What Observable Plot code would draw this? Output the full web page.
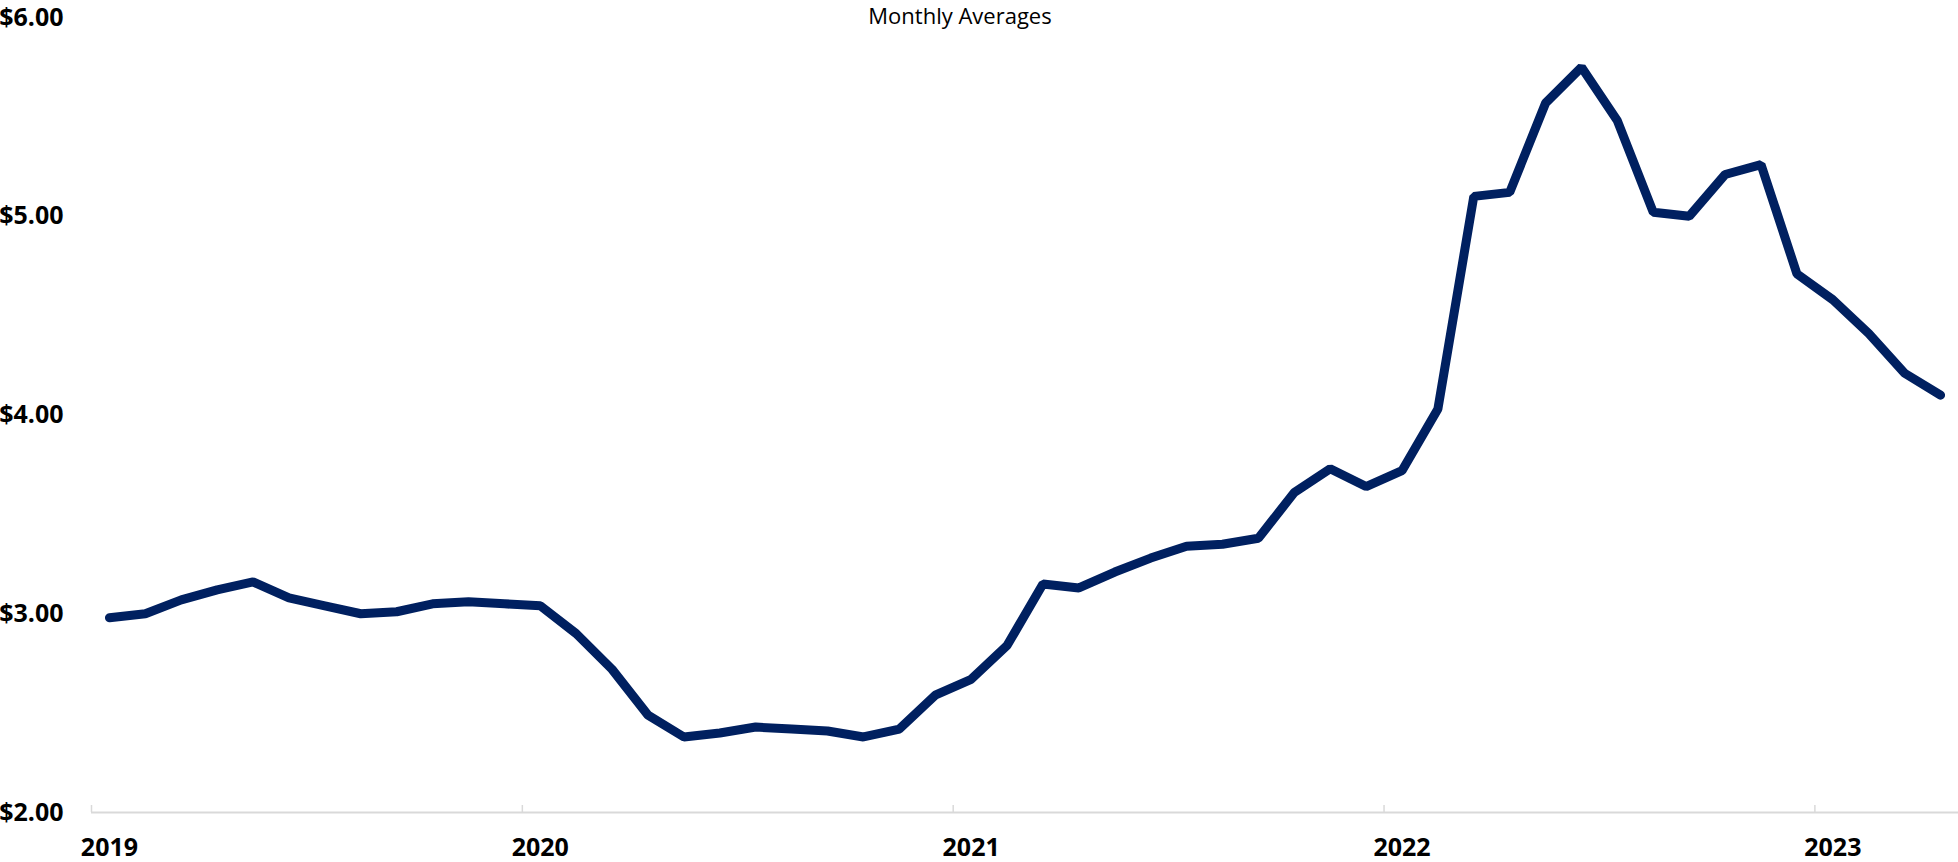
<!DOCTYPE html>
<html>
<head>
<meta charset="utf-8">
<script src="https://cdn.jsdelivr.net/npm/d3@7"></script>
<script src="https://cdn.jsdelivr.net/npm/@observablehq/plot@0.6"></script>
<style>
  body { margin: 0; background: #fff; }
  #wrap { position: relative; width: 1958px; height: 862px; }
  #title { position: absolute; top: 0; left: 0; width: 1920px; text-align: center;
           font-family: "Open Sans", sans-serif; font-size: 22px; color: #000; line-height: normal; }
</style>
</head>
<body>
<div id="wrap">
  <div id="chart"></div>
  <div id="title">Monthly Averages</div>
</div>
<script>
// Monthly average prices, Jan 2019 – Apr 2023
const startYear = 2019;
const prices = [
  2.98, 3.00, 3.07, 3.12, 3.16, 3.08, 3.04, 3.00, 3.01, 3.05, 3.06, 3.05,
  3.04, 2.90, 2.72, 2.49, 2.38, 2.40, 2.43, 2.42, 2.41, 2.38, 2.42, 2.59,
  2.67, 2.84, 3.15, 3.13, 3.21, 3.28, 3.34, 3.35, 3.38, 3.61, 3.73, 3.64,
  3.72, 4.03, 5.10, 5.12, 5.57, 5.75, 5.48, 5.02, 5.00, 5.21, 5.26, 4.71,
  4.58, 4.41, 4.21, 4.10
];
const yearLabels = ["2019", "2020", "2021", "2022", "2023"];
const yTicks = [2, 3, 4, 5, 6];

const data = prices.map((v, i) => ({ i: i + 0.5, v }));
const yearStarts = yearLabels.map((_, k) => k * 12);
const yearLabelPos = yearStarts.map(s => s + 0.5);

const chart = Plot.plot({
  width: 1958,
  height: 862,
  marginTop: 17,
  marginBottom: 50,
  marginLeft: 91,
  marginRight: 0,
  style: { fontFamily: '"Liberation Sans Narrow", "Open Sans", sans-serif', background: "#fff", color: "#000" },
  x: { domain: [0, prices.length] },
  y: { domain: [2, 6] },
  marks: [
    Plot.ruleY([2], { stroke: "#d9d9d9", strokeWidth: 2 }),
    Plot.axisX(yearStarts, { tickSize: -7, stroke: "#d9d9d9", strokeWidth: 1.5, tickFormat: () => "", label: null }),
    Plot.axisX(yearLabelPos, {
      tickSize: 0, tickPadding: 26, label: null,
      tickFormat: d => yearLabels[Math.round((d - 0.5) / 12)],
      fontSize: 25, fontWeight: "bold", fill: "#000"
    }),
    Plot.axisY(yTicks, {
      tickSize: 0, tickPadding: 28, label: null,
      tickFormat: d => "$" + d.toFixed(2),
      fontSize: 25, fontWeight: "bold", fill: "#000"
    }),
    Plot.lineY(data, {
      x: "i", y: "v", stroke: "#002060", strokeWidth: 9,
      strokeLinecap: "round", strokeLinejoin: "miter"
    })
  ]
});
document.getElementById("chart").appendChild(chart);
</script>
</body>
</html>
